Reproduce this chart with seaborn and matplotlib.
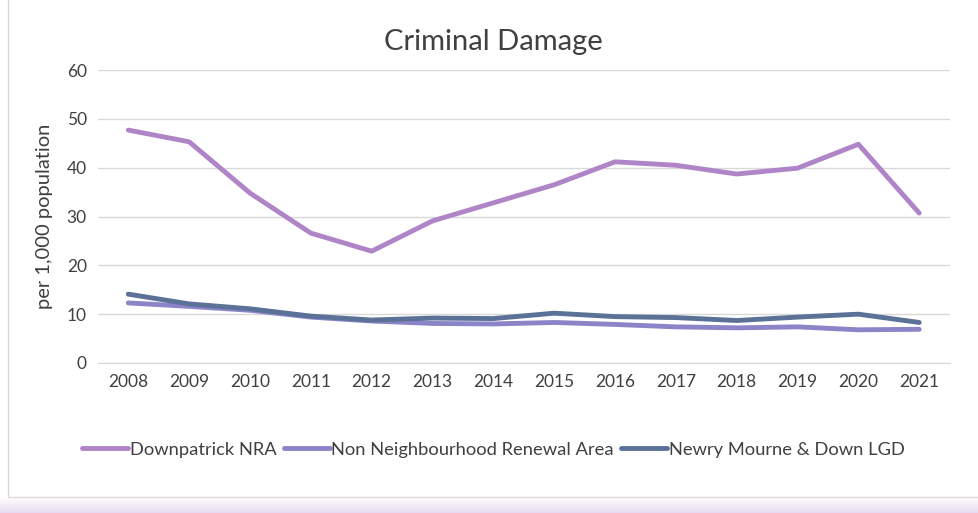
import numpy as np
import pandas as pd
import matplotlib
matplotlib.use("Agg")
import matplotlib.pyplot as plt
import seaborn as sns
from matplotlib.patches import Rectangle

years = [2008, 2009, 2010, 2011, 2012, 2013, 2014, 2015, 2016, 2017, 2018, 2019, 2020, 2021]
downpatrick = [47.7, 45.3, 34.8, 26.6, 22.9, 29.1, 32.8, 36.5, 41.2, 40.5, 38.7, 39.9, 44.8, 30.7]
non_nra = [12.3, 11.6, 10.8, 9.4, 8.6, 8.1, 8.0, 8.3, 7.9, 7.4, 7.2, 7.4, 6.8, 6.9]
lgd = [14.1, 12.1, 11.1, 9.6, 8.8, 9.2, 9.1, 10.2, 9.5, 9.3, 8.7, 9.4, 10.0, 8.3]
series_names = ["Downpatrick NRA", "Non Neighbourhood Renewal Area", "Newry Mourne & Down LGD"]
colors = ["#B085C8", "#8B84C8", "#5B7198"]

sns.set_style("white")
plt.rcParams['font.family'] = ['Lato', 'DejaVu Sans']

df = pd.DataFrame({"Year": [str(y) for y in years] * 3,
                   "Value": downpatrick + non_nra + lgd,
                   "Series": [series_names[0]] * 14 + [series_names[1]] * 14 + [series_names[2]] * 14})

fig = plt.figure(figsize=(9.79, 5.13), dpi=100)
ax = fig.add_axes([0.1, 0.2924, 0.87, 0.5711])

sns.lineplot(data=df, x="Year", y="Value", hue="Series", palette=colors,
             linewidth=3.5, ax=ax, sort=False)
for ln in ax.lines:
    ln.set_solid_capstyle("round")

ax.set_xlim(-0.5, 13.5)
ax.set_ylim(0, 60)
ax.set_yticks(range(0, 61, 10))
ax.yaxis.grid(True, color="#D9D9D9", linewidth=1)
ax.set_axisbelow(True)
for s in ["top", "right", "left"]:
    ax.spines[s].set_visible(False)
ax.spines["bottom"].set_color("#D9D9D9")
ax.tick_params(axis="both", length=0, labelsize=12.5, colors="#404040", pad=8)
ax.set_xlabel("")
ax.set_ylabel("per 1,000 population", fontsize=14.5, color="#404040", labelpad=10)

fig.text(0.504, 0.918, "Criminal Damage", fontsize=21, color="#404040",
         ha="center", va="center")

handles, labels = ax.get_legend_handles_labels()
ax.get_legend().remove()
leg = fig.legend(handles, labels, loc="center", bbox_to_anchor=(0.504, 0.123), ncol=3,
                 frameon=False, fontsize=13.2, handlelength=2.5, columnspacing=0.4,
                 handletextpad=0.1)
for t in leg.get_texts():
    t.set_color("#404040")
for h in leg.legend_handles:
    h.set_linewidth(3.5)

# outer chart frame and soft purple band at the bottom
fig.patches.append(Rectangle((8 / 979, 16 / 513), 1, 1, transform=fig.transFigure,
                             fill=False, edgecolor="#D9D9D9", linewidth=1))
band = fig.add_axes([0, 0, 1, 16 / 513])
grad = np.linspace(0, 1, 50).reshape(-1, 1)
band.imshow(grad, aspect="auto", cmap=matplotlib.colors.LinearSegmentedColormap.from_list(
    "b", ["#E8DAF2", "#FFFFFF"]), origin="lower")
band.axis("off")

fig.savefig("out.png", dpi=100)
